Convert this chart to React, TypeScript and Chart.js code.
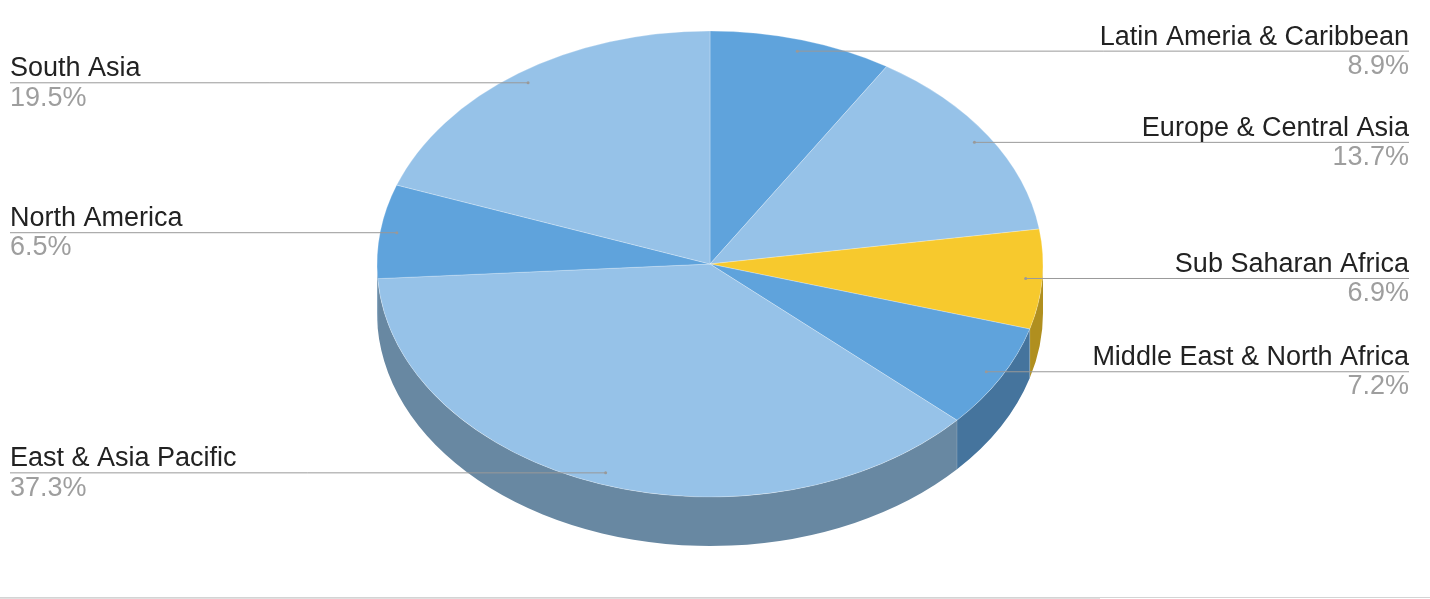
import React, { useEffect, useRef } from "react";
import { Chart, registerables } from "chart.js";

Chart.register(...registerables);

const categories = [
  "Latin Ameria & Caribbean",
  "Europe & Central Asia",
  "Sub Saharan Africa",
  "Middle East & North Africa",
  "East & Asia Pacific",
  "North America",
  "South Asia",
];
const shares = [8.9, 13.7, 6.9, 7.2, 37.3, 6.5, 19.5];
const topColors = ["#5FA3DC", "#96C2E8", "#F7C92D", "#5FA3DC", "#96C2E8", "#5FA3DC", "#96C2E8"];
const wallColors = ["#45749D", "#6888A2", "#B08F1F", "#45749D", "#6888A2", "#45749D", "#6888A2"];

const RADIUS_X = 333;
const RADIUS_Y = 233;
const DEPTH = 49;
const LABEL_LEFT = 10;
const LABEL_RIGHT = 1409;

const pie3d = {
  id: "pie3d",
  beforeDatasetsDraw(chart: any) {
    const ctx = chart.ctx;
    const arcs = chart.getDatasetMeta(0).data;
    const { x: cx, y: cy } = arcs[0];
    arcs.forEach((arc: any, i: number) => {
      const start = Math.max(arc.startAngle, 0);
      const end = Math.min(arc.endAngle, Math.PI);
      if (end <= start) return;
      ctx.save();
      ctx.beginPath();
      ctx.ellipse(cx, cy, RADIUS_X, RADIUS_Y, 0, start, end);
      ctx.ellipse(cx, cy + DEPTH, RADIUS_X, RADIUS_Y, 0, end, start, true);
      ctx.closePath();
      ctx.fillStyle = wallColors[i];
      ctx.fill();
      ctx.strokeStyle = "rgba(255,255,255,0.18)";
      ctx.lineWidth = 1;
      ctx.beginPath();
      const ex = cx + RADIUS_X * Math.cos(start);
      const ey = cy + RADIUS_Y * Math.sin(start);
      if (start > 0) {
        ctx.moveTo(ex, ey);
        ctx.lineTo(ex, ey + DEPTH);
        ctx.stroke();
      }
      ctx.restore();
    });
    ctx.save();
    ctx.translate(0, cy);
    ctx.scale(1, RADIUS_Y / RADIUS_X);
    ctx.translate(0, -cy);
  },
  afterDatasetsDraw(chart: any) {
    chart.ctx.restore();
  },
  afterDraw(chart: any) {
    const ctx = chart.ctx;
    const arcs = chart.getDatasetMeta(0).data;
    const { x: cx, y: cy } = arcs[0];
    ctx.save();
    arcs.forEach((arc: any, i: number) => {
      const mid = (arc.startAngle + arc.endAngle) / 2;
      const ax = cx + 0.95 * RADIUS_X * Math.cos(mid);
      const ay = cy + 0.95 * RADIUS_Y * Math.sin(mid) - 0.1;
      const rightSide = Math.cos(mid) > 0;
      const edge = rightSide ? LABEL_RIGHT : LABEL_LEFT;
      ctx.strokeStyle = "#999999";
      ctx.lineWidth = 1;
      ctx.beginPath();
      ctx.moveTo(ax, ay);
      ctx.lineTo(edge, ay);
      ctx.stroke();
      ctx.fillStyle = "#999999";
      ctx.beginPath();
      ctx.arc(ax, ay, 1.5, 0, Math.PI * 2);
      ctx.fill();
      ctx.textAlign = rightSide ? "right" : "left";
      ctx.textBaseline = "alphabetic";
      ctx.font = '27px "Liberation Sans"';
      ctx.fillStyle = "#222222";
      ctx.fillText(categories[i], edge, Math.round(ay - 6.4));
      ctx.fillStyle = "#9E9E9E";
      ctx.fillText(shares[i].toFixed(1) + "%", edge, Math.round(ay + 22.7));
    });
    ctx.fillStyle = "#D4D4D4";
    ctx.fillRect(0, 597, 1430, 1);
    ctx.fillStyle = "#E0E0E0";
    ctx.fillRect(0, 598, 1100, 1);
    ctx.restore();
  },
};

export default function App() {
  const ref = useRef<HTMLCanvasElement | null>(null);
  useEffect(() => {
    const chart = new Chart(ref.current as HTMLCanvasElement, {
      type: "pie",
      data: {
        labels: categories,
        datasets: [
          {
            data: shares,
            backgroundColor: topColors,
            borderColor: "rgba(255,255,255,0.3)",
            borderWidth: 1,
            radius: RADIUS_X,
            clip: false,
          } as any,
        ],
      },
      options: {
        animation: false,
        responsive: false,
        layout: { padding: { left: 0, right: 10, top: 0, bottom: 71 } },
        plugins: { legend: { display: false }, tooltip: { enabled: false } },
      },
      plugins: [pie3d],
    });
    return () => chart.destroy();
  }, []);
  return (
    <div style={{ position: "fixed", left: 0, top: 0, width: 1430, height: 599, background: "#ffffff" }}>
      <canvas ref={ref} width={1430} height={599} style={{ display: "block" }} />
    </div>
  );
}
